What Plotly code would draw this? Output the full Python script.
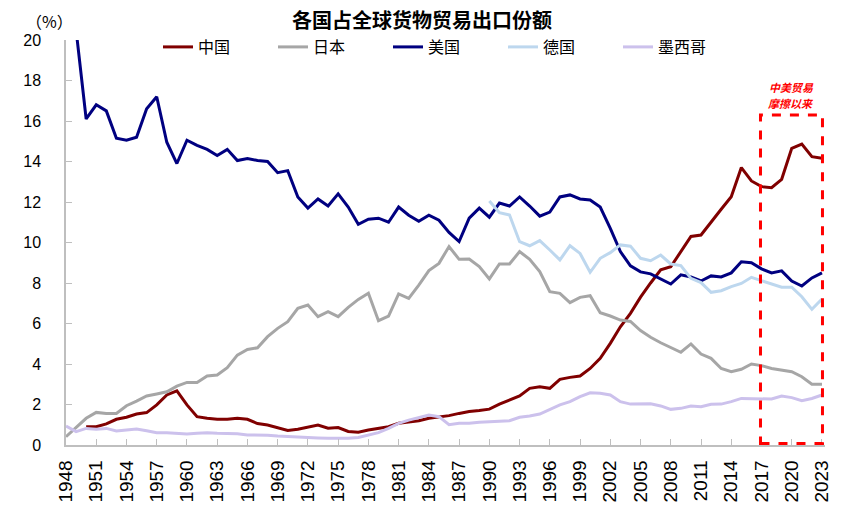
import plotly.graph_objects as go

years = list(range(1948, 2024))

china = [None, None,
         0.9, 0.9, 1.04, 1.27, 1.37, 1.53, 1.6, 1.98, 2.47, 2.67,
         1.98, 1.4, 1.32, 1.27, 1.27, 1.32, 1.27, 1.06, 0.99, 0.87,
         0.72, 0.78, 0.87, 0.99, 0.83, 0.86, 0.67, 0.63, 0.74, 0.82,
         0.9, 1.07, 1.15, 1.2, 1.32, 1.38, 1.45, 1.56, 1.65, 1.7,
         1.77, 2.02, 2.22, 2.42, 2.8, 2.88, 2.8, 3.24, 3.34, 3.41,
         3.78, 4.28, 5.02, 5.84, 6.5, 7.3, 8.0, 8.65, 8.8, 9.55,
         10.3, 10.37, 11.03, 11.64, 12.26, 13.7, 13.04, 12.76, 12.71, 13.12,
         14.65, 14.86, 14.24, 14.16]

japan = [0.41, 0.85,
         1.32, 1.61, 1.56, 1.56, 1.94, 2.17, 2.42, 2.52, 2.63, 2.91,
         3.09, 3.09, 3.41, 3.46, 3.82, 4.44, 4.72, 4.8, 5.35, 5.76,
         6.09, 6.75, 6.91, 6.34, 6.58, 6.34, 6.8, 7.19, 7.49, 6.14,
         6.37, 7.46, 7.24, 7.9, 8.61, 8.97, 9.8, 9.17, 9.18, 8.81,
         8.2, 8.94, 8.94, 9.55, 9.17, 8.56, 7.57, 7.49, 7.03, 7.29,
         7.37, 6.53, 6.37, 6.17, 6.1, 5.65, 5.32, 5.05, 4.81, 4.58,
         4.99, 4.49, 4.28, 3.78, 3.62, 3.74, 4.0, 3.92, 3.78, 3.7,
         3.62, 3.37, 3.0, 3.0]

usa = [21.6, 20.5,
       16.1, 16.8, 16.5, 15.15, 15.05, 15.2, 16.6, 17.2, 14.95, 13.9,
       15.05, 14.8, 14.6, 14.3, 14.6, 14.05, 14.15, 14.05, 14.0, 13.45,
       13.55, 12.25, 11.7, 12.15, 11.8, 12.4, 11.75, 10.9, 11.15, 11.2,
       11.0, 11.75, 11.35, 11.05, 11.35, 11.1, 10.5, 10.05, 11.2, 11.7,
       11.25, 11.95, 11.8, 12.25, 11.8, 11.3, 11.5, 12.25, 12.35, 12.15,
       12.1, 11.75, 10.7, 9.55, 8.85, 8.55, 8.45, 8.2, 7.95, 8.4,
       8.3, 8.1, 8.35, 8.3, 8.5, 9.05, 9.0, 8.7, 8.5, 8.6,
       8.1, 7.85, 8.25, 8.5]

germany = [None] * 42 + [
       12.05, 11.47, 11.36, 10.04, 9.84, 10.09, 9.63, 9.14, 9.84, 9.46,
       8.53, 9.22, 9.5, 9.88, 9.82, 9.22, 9.1, 9.38, 8.94, 8.86,
       8.23, 8.02, 7.54, 7.62, 7.82, 7.98, 8.28, 8.11, 7.95, 7.79,
       7.79, 7.32, 6.7, 7.21]

mexico = [0.94, 0.66,
          0.82, 0.78, 0.82, 0.69, 0.74, 0.79, 0.7, 0.61, 0.61, 0.58,
          0.54, 0.58, 0.61, 0.58, 0.58, 0.55, 0.5, 0.5, 0.48, 0.44,
          0.41, 0.38, 0.37, 0.35, 0.33, 0.32, 0.33, 0.37, 0.49, 0.61,
          0.82, 1.07, 1.23, 1.35, 1.48, 1.4, 1.0, 1.07, 1.07, 1.12,
          1.15, 1.2, 1.2, 1.37, 1.43, 1.53, 1.76, 1.98, 2.14, 2.39,
          2.58, 2.55, 2.47, 2.14, 2.02, 2.02, 2.04, 1.93, 1.76, 1.81,
          1.93, 1.89, 2.01, 2.02, 2.14, 2.3, 2.3, 2.27, 2.27, 2.42,
          2.34, 2.19, 2.3, 2.47]

series_names = ["中国", "日本", "美国", "德国", "墨西哥"]
series_values = [china, japan, usa, germany, mexico]
series_colors = ["#800000", "#A6A6A6", "#000080", "#BDD7EE", "#CCC1EC"]

x_tick_years = list(range(1948, 2024, 3))
y_tick_vals = list(range(0, 21, 2))

title_text = "各国占全球货物贸易出口份额"
unit_text = "（%）"
note_lines = ["中美贸易", "摩擦以来"]

FONT = "Liberation Sans, Arial, Noto Sans CJK SC, sans-serif"
CJK = "Noto Sans CJK SC, Liberation Sans, sans-serif"

fig = go.Figure()
for name, vals, col in zip(series_names, series_values, series_colors):
    fig.add_trace(go.Scatter(x=years, y=vals, name=name, mode="lines",
                             line=dict(color=col, width=3), connectgaps=False))

# page body adds an 8px offset; work in viewport pixels and shift back
OFF = 8
W, H = 847, 507
PX0, PX1, PY0, PY1 = 66, 825, 40, 445   # plot area in viewport pixels
L = PX0 - OFF
T = PY0 - OFF
pw = PX1 - PX0
ph = PY1 - PY0
R = W - L - pw
B = H - T - ph

def px(xv):
    return (xv - PX0) / pw

def py(yv):
    return (PY1 - yv) / ph

def cx(xv):
    return (xv - OFF) / W

def cy(yv):
    return 1 - (yv - OFF) / H

fig.update_layout(
    width=W, height=H,
    margin=dict(l=L, r=R, t=T, b=B, autoexpand=False),
    paper_bgcolor="white", plot_bgcolor="white",
    font=dict(family=FONT, color="black"),
    showlegend=True,
    legend=dict(orientation="h", xref="container", yref="container",
                x=cx(158), xanchor="left", y=cy(47), yanchor="middle",
                font=dict(family=CJK, size=16), entrywidth=70, entrywidthmode="pixels",
                bgcolor="rgba(0,0,0,0)", traceorder="normal", itemwidth=30),
    xaxis=dict(range=[1948, 2023.3], tickmode="array", tickvals=x_tick_years,
               ticktext=[str(v) for v in x_tick_years], tickangle=-90,
               showgrid=False, zeroline=False, showline=True, linecolor="#BFBFBF",
               linewidth=1.5, ticks="inside", ticklen=6, tickcolor="#BFBFBF",
               ticklabelstandoff=6,
               tickfont=dict(family=FONT, size=19, color="black")),
    yaxis=dict(range=[0, 20], tickmode="array", tickvals=y_tick_vals,
               showgrid=False, zeroline=False, showline=True, linecolor="#BFBFBF",
               linewidth=1.5, ticks="inside", ticklen=6, tickcolor="#BFBFBF",
               ticklabelstandoff=20,
               tickfont=dict(family=FONT, size=16, color="black")),
)

# title as an annotation (keeps it fully inside the page)
fig.add_annotation(text="<b>" + title_text + "</b>", xref="paper", yref="paper",
                   x=px(422), y=py(19), xanchor="center", yanchor="middle", showarrow=False,
                   font=dict(family=CJK, size=20, color="black"))
fig.add_annotation(text=unit_text, xref="paper", yref="paper", x=px(49), y=py(21),
                   xanchor="center", yanchor="middle", showarrow=False,
                   font=dict(family=CJK, size=16, color="black"))
for i, line in enumerate(note_lines):
    fig.add_annotation(text="<b><i>" + line + "</i></b>", xref="paper", yref="paper",
                       x=px(791), y=py(87 + 16 * i), xanchor="center", yanchor="middle",
                       showarrow=False, font=dict(family=CJK, size=11, color="#FF0000"))
fig.add_shape(type="rect", xref="x", yref="y", x0=2016.9, x1=2023.05, y0=0.08, y1=16.3,
              line=dict(color="#FF0000", width=3, dash="dash"), fillcolor="rgba(0,0,0,0)")

fig.write_html("out.html")
